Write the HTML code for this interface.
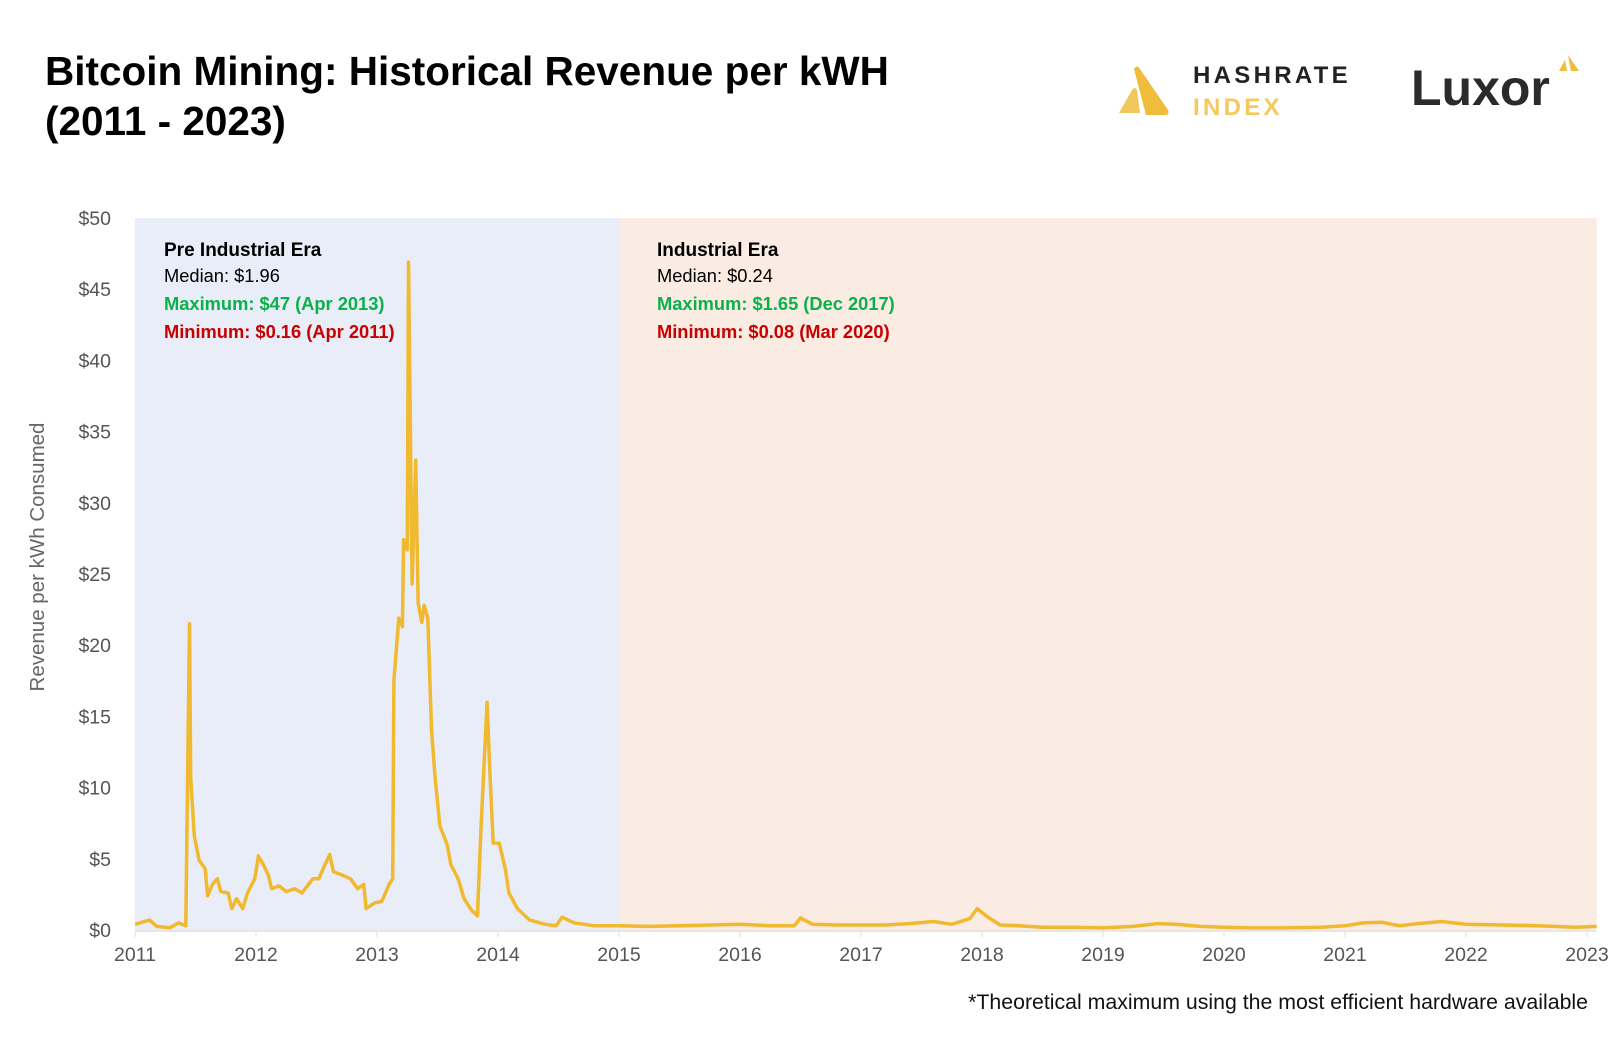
<!DOCTYPE html>
<html><head><meta charset="utf-8"><style>
html,body{margin:0;padding:0;background:#fff;}
body{width:1624px;height:1042px;overflow:hidden;font-family:"Liberation Sans",sans-serif;}
</style></head><body>
<svg id="chart" width="1624" height="1042" viewBox="0 0 1624 1042" xmlns="http://www.w3.org/2000/svg">
<text x="45" y="85" font-size="40.5" font-weight="bold" fill="#000">Bitcoin Mining: Historical Revenue per kWH</text>
<text x="45" y="135" font-size="40.5" font-weight="bold" fill="#000">(2011 - 2023)</text>
<g>
<path d="M1119 113 L1132 90 Q1135 86 1137 90 L1140 113 Z" fill="#f2c75c"/>
<path d="M1134 69 Q1137 64 1140 69 L1168 110 Q1170 115 1165 115 L1146 115 Z" fill="#f0bd3a"/>
<text x="1193" y="83" font-size="24" font-weight="bold" letter-spacing="3.3" fill="#222">HASHRATE</text>
<text x="1193" y="115" font-size="24" font-weight="bold" letter-spacing="3.3" fill="#f5c95e">INDEX</text>
</g>
<g>
<text x="1411" y="105" font-size="50" font-weight="bold" fill="#2b2b2b">Luxor</text>
<path d="M1559 71 L1565 60 L1567 71 Z" fill="#f0bd3a"/>
<path d="M1568 55 L1579 71 L1571 71 Z" fill="#f0bd3a"/>
</g>
<g id="plot"></g>
<text transform="translate(44,557) rotate(-90)" text-anchor="middle" font-size="20.5" fill="#666">Revenue per kWh Consumed</text>
<text x="1588" y="1009" text-anchor="end" font-size="21.3" fill="#111">*Theoretical maximum using the most efficient hardware available</text>
<g>
<text x="164" y="256" font-size="19" font-weight="bold" fill="#000">Pre Industrial Era</text>
<text x="164" y="282" font-size="18.3" fill="#000">Median: $1.96</text>
<text x="164" y="310" font-size="18.3" font-weight="bold" fill="#0bb04b">Maximum: $47 (Apr 2013)</text>
<text x="164" y="338" font-size="18.3" font-weight="bold" fill="#c80000">Minimum: $0.16 (Apr 2011)</text>
</g>
<g>
<text x="657" y="256" font-size="19" font-weight="bold" fill="#000">Industrial Era</text>
<text x="657" y="282" font-size="18.3" fill="#000">Median: $0.24</text>
<text x="657" y="310" font-size="18.3" font-weight="bold" fill="#0bb04b">Maximum: $1.65 (Dec 2017)</text>
<text x="657" y="338" font-size="18.3" font-weight="bold" fill="#c80000">Minimum: $0.08 (Mar 2020)</text>
</g>
</svg>
<script>
const yearTicks = [2011,2012,2013,2014,2015,2016,2017,2018,2019,2020,2021,2022,2023];
const valueTicks = [0,5,10,15,20,25,30,35,40,45,50];
const eras = [[2011,2015,'#e9edf7','pre-industrial-era-band'],[2015,2023.08,'#faece2','industrial-era-band']];
const dates = [2011.0,2011.12,2011.18,2011.29,2011.36,2011.42,2011.45,2011.46,2011.49,2011.53,2011.58,2011.6,2011.64,2011.68,2011.71,2011.77,2011.8,2011.84,2011.89,2011.93,2011.99,2012.02,2012.06,2012.1,2012.13,2012.19,2012.25,2012.32,2012.38,2012.47,2012.52,2012.56,2012.61,2012.64,2012.7,2012.78,2012.84,2012.89,2012.91,2012.98,2013.04,2013.1,2013.13,2013.14,2013.18,2013.21,2013.22,2013.25,2013.26,2013.29,2013.32,2013.34,2013.37,2013.39,2013.42,2013.45,2013.48,2013.52,2013.58,2013.61,2013.67,2013.72,2013.78,2013.83,2013.86,2013.91,2013.93,2013.96,2014.01,2014.06,2014.09,2014.16,2014.26,2014.39,2014.48,2014.53,2014.63,2014.79,2015.0,2015.25,2015.5,2015.75,2016.0,2016.25,2016.45,2016.5,2016.6,2016.8,2017.0,2017.2,2017.4,2017.6,2017.75,2017.9,2017.96,2018.05,2018.15,2018.3,2018.5,2018.75,2019.0,2019.25,2019.45,2019.6,2019.8,2020.0,2020.2,2020.5,2020.8,2021.0,2021.15,2021.3,2021.45,2021.6,2021.8,2022.0,2022.3,2022.6,2022.9,2023.08];
const values = [0.4,0.7,0.25,0.16,0.5,0.3,21.5,10.7,6.6,4.9,4.3,2.4,3.2,3.6,2.7,2.6,1.5,2.2,1.5,2.6,3.6,5.2,4.6,3.9,2.9,3.1,2.7,2.9,2.6,3.6,3.6,4.4,5.3,4.1,3.9,3.6,2.9,3.2,1.5,1.9,2.0,3.2,3.6,17.5,21.9,21.3,27.4,26.7,46.9,24.3,33.0,23.0,21.6,22.8,21.9,14.1,10.7,7.3,6.0,4.6,3.6,2.2,1.4,1.0,7.3,16.0,11.7,6.1,6.1,4.3,2.6,1.5,0.7,0.4,0.3,0.9,0.5,0.3,0.3,0.25,0.3,0.35,0.4,0.3,0.3,0.85,0.4,0.35,0.35,0.35,0.45,0.6,0.4,0.8,1.5,0.9,0.35,0.3,0.2,0.2,0.15,0.25,0.45,0.4,0.25,0.2,0.15,0.15,0.2,0.3,0.5,0.55,0.3,0.45,0.6,0.4,0.35,0.3,0.2,0.25];
const NS='http://www.w3.org/2000/svg';
const X0=135, PX=121, Y0=930, PY=14.24;
const xs=d=>X0+(d-2011)*PX;
const ys=v=>Y0-v*PY;
const plot=document.getElementById('plot');
function mk(tag,attrs){const e=document.createElementNS(NS,tag);for(const k in attrs)e.setAttribute(k,attrs[k]);return e;}
eras.forEach(e=>{
  const r=mk('rect',{x:xs(e[0]),y:ys(50),width:xs(e[1])-xs(e[0]),height:ys(0)-ys(50),fill:e[2]});
  
  
  plot.appendChild(r);
});
const ax=mk('line',{x1:X0,x2:xs(2023.08),y1:Y0+1,y2:Y0+1,stroke:'#e6e6e6','stroke-width':2});


plot.appendChild(ax);
valueTicks.forEach(v=>{
  const t=mk('text',{x:111,y:ys(v)+7,'text-anchor':'end','font-size':19.5,fill:'#555'});
  t.textContent='$'+v;
  
  
  plot.appendChild(t);
});
yearTicks.forEach(y=>{
  const tk=mk('line',{x1:xs(y),x2:xs(y),y1:Y0+2,y2:Y0+7,stroke:'#ddd','stroke-width':1});
  
  
  plot.appendChild(tk);
  const t=mk('text',{x:xs(y),y:961,'text-anchor':'middle','font-size':19.5,fill:'#555'});
  t.textContent=y;
  
  
  plot.appendChild(t);
});
const d=dates.map((t,i)=>(i?'L':'M')+xs(t).toFixed(1)+' '+ys(values[i]).toFixed(1)).join(' ');
const line=mk('path',{d:d,fill:'none',stroke:'#f0b92f','stroke-width':3.5,'stroke-linejoin':'round'});


plot.appendChild(line);
</script>
</body></html>
